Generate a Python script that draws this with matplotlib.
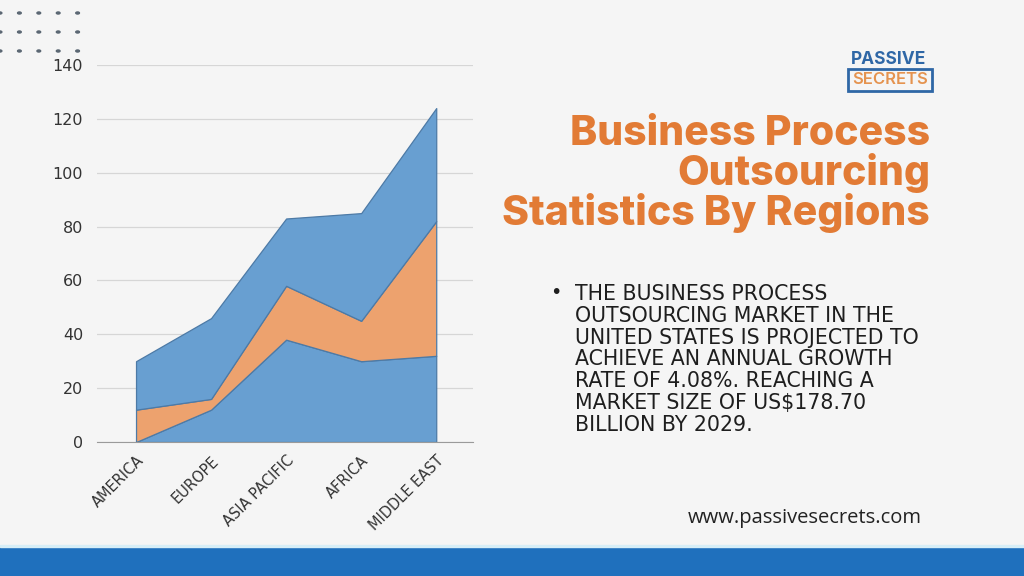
import numpy as np
import matplotlib.pyplot as plt
from matplotlib.patches import Rectangle

regions = ['AMERICA', 'EUROPE', 'ASIA PACIFIC', 'AFRICA', 'MIDDLE EAST']
series_a = [0, 12, 38, 30, 32]     # bottom layer (blue)
series_b = [12, 4, 20, 15, 50]     # middle layer (orange)
series_c = [18, 30, 25, 40, 42]    # top layer (blue)
y_ticks = [0, 20, 40, 60, 80, 100, 120, 140]

bg = '#f5f5f5'
blue = '#689fd1'
orange = '#eda26e'
title_col = '#e27b35'

fig = plt.figure(figsize=(10.24, 5.76), dpi=100)
fig.patch.set_facecolor(bg)

# dotted decoration top-left
for r in range(3):
    for c in range(5):
        fig.patches.append(plt.Circle((c * 19.4 / 1024, 1 - (13 + r * 19) / 576), 0.0018,
                                      transform=fig.transFigure, color='#5b6773'))

ax = fig.add_axes([97 / 1024, 1 - 442 / 576, 376 / 1024, 377 / 576])
ax.set_facecolor(bg)
x = np.arange(len(regions))
ax.stackplot(x, series_a, series_b, series_c, colors=[blue, orange, blue],
             edgecolor='#4d7aa6', linewidth=0.9)
ax.set_xlim(-0.52, 4.49)
ax.set_ylim(0, 140)
ax.set_yticks(y_ticks)
ax.set_xticks(x)
ax.set_xticklabels(regions, rotation=45, ha='right', rotation_mode='anchor')
ax.tick_params(axis='both', length=0, colors='#333333', labelsize=11.5)
ax.tick_params(axis='x', labelsize=10.5, pad=8)
ax.tick_params(axis='y', pad=10)
ax.grid(axis='y', color='#d6d6d6', linewidth=0.9)
ax.set_axisbelow(True)
for s in ['top', 'right', 'left']:
    ax.spines[s].set_visible(False)
ax.spines['bottom'].set_color('#9a9a9a')

# logo
fig.text(889 / 1024, 1 - 59 / 576, 'PASSIVE', ha='center', va='center',
         fontsize=12.5, fontweight='bold', color='#2f67a6', family='Inter')
fig.patches.append(Rectangle((848 / 1024, 1 - 91 / 576), 84 / 1024, 22 / 576,
                             transform=fig.transFigure, fill=False,
                             edgecolor='#2f67a6', linewidth=2))
fig.text(890 / 1024, 1 - 80 / 576, 'SECRETS', ha='center', va='center',
         fontsize=12, fontweight='semibold', color='#e5934f', family='Inter')

# title
fig.text(930 / 1024, 1 - 174 / 576, 'Business Process\nOutsourcing\nStatistics By Regions',
         ha='right', va='center', fontsize=29.5, fontweight='heavy', color=title_col,
         family='Inter', linespacing=0.99, multialignment='right')

# bullet text
body = ('THE BUSINESS PROCESS\nOUTSOURCING MARKET IN THE\nUNITED STATES IS PROJECTED TO\n'
        'ACHIEVE AN ANNUAL GROWTH\nRATE OF 4.08%. REACHING A\nMARKET SIZE OF US$178.70\n'
        'BILLION BY 2029.')
fig.text(575 / 1024, 1 - 284 / 576, body, ha='left', va='top', fontsize=14.8,
         color='#1e1e1e', family='DejaVu Sans', linespacing=1.11)
fig.text(556 / 1024, 1 - 292 / 576, '\u2022', ha='center', va='center', fontsize=14,
         color='#1e1e1e')

fig.text(922 / 1024, 1 - 518 / 576, 'www.passivesecrets.com', ha='right', va='center',
         fontsize=14.5, color='#222222', family='Open Sans')

# bottom band
fig.patches.append(Rectangle((0, 0), 1, 29 / 576, transform=fig.transFigure,
                             color='#1f70bd'))
fig.patches.append(Rectangle((0, 29 / 576), 1, 2 / 576, transform=fig.transFigure,
                             color='#d7eef7'))

fig.savefig('out.png', dpi=100, facecolor=bg)
